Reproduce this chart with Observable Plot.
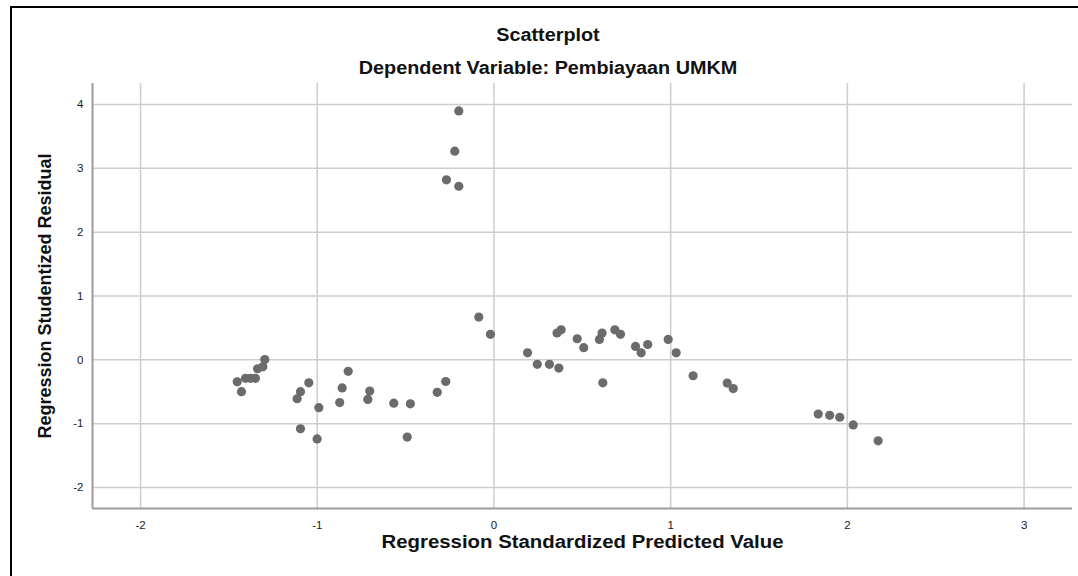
<!DOCTYPE html>
<html>
<head>
<meta charset="utf-8">
<script src="https://cdn.jsdelivr.net/npm/d3@7"></script>
<script src="https://cdn.jsdelivr.net/npm/@observablehq/plot@0.6"></script>
<style>
  body { margin: 0; background: #fff; font-family: "Liberation Sans", Arial, sans-serif; }
  #wrap { position: relative; width: 1078px; height: 576px; overflow: hidden; background: #fff; }
  #head { position: relative; height: 80px; }
  .t { position: absolute; left: 0; width: 1096px; text-align: center; font-weight: bold; font-size: 18px; line-height: 18px; color: #111; }
  .t span { display: inline-block; transform: scaleX(1.1); }
  #frame { position: absolute; left: 10px; top: 6px; width: 2000px; height: 2000px; border-left: 2px solid #000; border-top: 2px solid #000; pointer-events: none; }
  #chart svg { overflow: visible; }
</style>
</head>
<body>
<div id="wrap">
  <div id="head">
    <div class="t" style="top:26px"><span id="title"></span></div>
    <div class="t" style="top:59px"><span id="subtitle"></span></div>
  </div>
  <div id="chart"></div>
  <div id="frame"></div>
</div>
<script>
const titleText = "Scatterplot";
const subtitleText = "Dependent Variable: Pembiayaan UMKM";
const xTitle = "Regression Standardized Predicted Value";
const yTitle = "Regression Studentized Residual";

const xTicks = [-2, -1, 0, 1, 2, 3];
const yTicks = [-2, -1, 0, 1, 2, 3, 4];

// Regression Standardized Predicted Value
const predicted = [
  -1.453, -1.429, -1.406, -1.378, -1.350, -1.338, -1.308, -1.297,
  -1.114, -1.095, -1.048, -1.095, -1.001, -0.991, -0.873, -0.859, -0.825, -0.714, -0.703,
  -0.567, -0.491, -0.473, -0.321, -0.273,
  -0.269, -0.222, -0.199, -0.199,
  -0.086, -0.020, 0.190, 0.245, 0.314, 0.367, 0.357, 0.380, 0.471, 0.508,
  0.597, 0.612, 0.616, 0.684, 0.716, 0.801, 0.833, 0.870, 0.986, 1.031, 1.127,
  1.320, 1.354, 1.835, 1.900, 1.957, 2.033, 2.174
];
// Regression Studentized Residual
const residual = [
  -0.345, -0.50, -0.29, -0.29, -0.29, -0.14, -0.11, 0.005,
  -0.61, -0.50, -0.36, -1.08, -1.24, -0.75, -0.67, -0.44, -0.18, -0.62, -0.49,
  -0.68, -1.21, -0.69, -0.51, -0.34,
  2.82, 3.27, 2.72, 3.90,
  0.67, 0.40, 0.11, -0.07, -0.07, -0.13, 0.42, 0.47, 0.33, 0.19,
  0.32, 0.42, -0.36, 0.47, 0.40, 0.21, 0.11, 0.24, 0.32, 0.11, -0.25,
  -0.365, -0.45, -0.85, -0.87, -0.90, -1.02, -1.27
];

const xDomain = [-2.272, 3.274];
const yDomain = [-2.33, 4.33];

document.getElementById("title").textContent = titleText;
document.getElementById("subtitle").textContent = subtitleText;

const data = predicted.map((x, i) => ({ x, y: residual[i] }));
const fmt = d => String(d);

const chart = Plot.plot({
  width: 1078,
  height: 496,
  marginTop: 3,
  marginBottom: 68,
  marginLeft: 92,
  marginRight: 6,
  style: { fontFamily: '"Liberation Sans", Arial, sans-serif', fontSize: "11.5px", color: "#222", background: "transparent", overflow: "visible" },
  x: { domain: xDomain },
  y: { domain: yDomain },
  marks: [
    Plot.gridX(xTicks, { stroke: "#cdcdcd", strokeWidth: 1.5, strokeOpacity: 1 }),
    Plot.gridY(yTicks, { stroke: "#cdcdcd", strokeWidth: 1.5, strokeOpacity: 1 }),
    Plot.axisX(xTicks, { tickSize: 0, tickPadding: 12, label: null, tickFormat: fmt, fill: "#1a1a1a" }),
    Plot.axisY(yTicks, { tickSize: 0, tickPadding: 9, label: null, tickFormat: fmt, fill: "#1a1a1a" }),
    Plot.ruleX([xDomain[0]], { stroke: "#9c9c9c", strokeWidth: 2 }),
    Plot.ruleY([yDomain[0]], { stroke: "#9c9c9c", strokeWidth: 2 }),
    Plot.dot(data, { x: "x", y: "y", r: 4.6, fill: "#6b6b6b", stroke: null }),
    Plot.text([xTitle], { frameAnchor: "bottom", dy: 39, fontSize: 18, fontWeight: "bold", fill: "#111" }),
    Plot.text([yTitle], { frameAnchor: "left", textAnchor: "middle", dx: -47, rotate: -90, fontSize: 18, fontWeight: "bold", fill: "#111" })
  ]
});

d3.select(chart).selectAll("text")
  .filter(function () { return this.textContent === xTitle; })
  .attr("textLength", 402)
  .attr("lengthAdjust", "spacingAndGlyphs");

document.getElementById("chart").appendChild(chart);
</script>
</body>
</html>
